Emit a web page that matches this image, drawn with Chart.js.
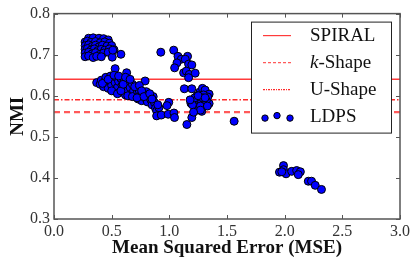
<!DOCTYPE html>
<html lang="en">
<head>
<meta charset="UTF-8">
<title>NMI vs MSE</title>
<style>
    html, body { margin: 0; padding: 0; background: #fff; }
    #wrap { width: 413px; height: 262px; }
</style>
</head>
<body>
<div id="wrap">
    <canvas id="grafico" width="413" height="262"></canvas>
</div>
<script src="https://cdn.jsdelivr.net/npm/chart.js"></script>
<script>
    // tick values
    var xTicks = [0.0, 0.5, 1.0, 1.5, 2.0, 2.5, 3.0];
    var yTicks = [0.3, 0.4, 0.5, 0.6, 0.7, 0.8];

    // baselines (NMI)
    var spiralNmi = 0.64;
    var uShapeNmi = 0.59;
    var kShapeNmi = 0.56;

    // LDPS runs: MSE and NMI
    var ldpsMse = [
        // cluster near 0.3-0.5
        0.30, 0.34, 0.39, 0.43, 0.47,
        0.27, 0.29, 0.32, 0.36, 0.40, 0.44, 0.48,
        0.27, 0.30, 0.33, 0.36, 0.39, 0.42, 0.46, 0.50,
        0.27, 0.29, 0.32, 0.35, 0.38, 0.41, 0.44, 0.48, 0.52,
        0.27, 0.30, 0.33, 0.36, 0.40, 0.43, 0.47,
        0.27, 0.30, 0.34, 0.37, 0.41, 0.505, 0.51, 0.58,
        // band 0.37-1.05
        0.37, 0.40, 0.41, 0.43, 0.44, 0.45, 0.46, 0.47, 0.48, 0.49, 0.50, 0.51, 0.52, 0.53, 0.53,
        0.54, 0.55, 0.56, 0.57, 0.58, 0.59, 0.60, 0.61, 0.62, 0.63, 0.63, 0.64, 0.65, 0.66, 0.67,
        0.68, 0.69, 0.70, 0.71, 0.72, 0.73, 0.74, 0.75, 0.76, 0.77, 0.79, 0.79, 0.80, 0.81, 0.82,
        0.84, 0.85, 0.86, 0.87, 0.88, 0.89, 0.91, 0.89, 0.93, 0.99, 1.04, 1.045, 0.995, 0.98,
        0.42, 0.47, 0.50, 0.52, 0.55, 0.56, 0.58, 0.60, 0.62, 0.64, 0.66, 0.68, 0.70, 0.72, 0.74,
        0.76, 0.78, 0.83, 0.85, 0.90,
        // cluster near 1.0-1.35
        0.926, 1.038, 1.075, 1.104, 1.158, 1.138, 1.066, 1.046, 1.167, 1.195, 1.124, 1.147, 1.173, 1.224, 1.167,
        1.13, 1.195, 1.265, 1.287, 1.31, 1.345, 1.333, 1.296, 1.345, 1.187, 1.21, 1.253, 1.224, 1.281, 1.238,
        1.195, 1.152, 1.562, 1.23, 1.26, 1.28, 1.30, 1.24, 1.27, 1.20, 1.32, 1.29, 1.22,
        1.25, 1.31, 1.18, 1.27, 1.33, 1.21,
        // cluster near 2.0-2.3
        1.955, 1.99, 1.99, 2.012, 2.061, 2.104, 2.136, 2.118, 2.205, 2.233, 2.265, 2.319, 1.975
    ];
    var ldpsNmi = [
        0.740, 0.741, 0.740, 0.739, 0.736,
        0.731, 0.733, 0.730, 0.732, 0.729, 0.731, 0.728,
        0.722, 0.724, 0.720, 0.723, 0.719, 0.723, 0.721, 0.722,
        0.713, 0.715, 0.711, 0.714, 0.710, 0.713, 0.711, 0.714, 0.712,
        0.704, 0.706, 0.702, 0.705, 0.701, 0.704, 0.706,
        0.695, 0.697, 0.693, 0.696, 0.695, 0.694, 0.711, 0.701,
        0.632, 0.628, 0.638, 0.622, 0.635, 0.645, 0.628, 0.618, 0.638, 0.648, 0.625, 0.640, 0.612, 0.666, 0.632,
        0.645, 0.620, 0.635, 0.608, 0.642, 0.625, 0.615, 0.638, 0.602, 0.656, 0.628, 0.612, 0.635, 0.620, 0.604,
        0.628, 0.612, 0.598, 0.620, 0.606, 0.592, 0.612, 0.600, 0.588, 0.605, 0.636, 0.595, 0.610, 0.585, 0.598,
        0.590, 0.578, 0.598, 0.584, 0.570, 0.563, 0.571, 0.551, 0.553, 0.555, 0.558, 0.547, 0.584, 0.576,
        0.630, 0.640, 0.612, 0.650, 0.605, 0.648, 0.612, 0.628, 0.645, 0.600, 0.640, 0.598, 0.622, 0.595, 0.625,
        0.612, 0.598, 0.605, 0.592, 0.578,
        0.706, 0.711, 0.696, 0.689, 0.696, 0.689, 0.680, 0.668, 0.677, 0.675, 0.656, 0.660, 0.652, 0.655, 0.644,
        0.617, 0.617, 0.609, 0.618, 0.614, 0.604, 0.597, 0.602, 0.581, 0.582, 0.586, 0.578, 0.571, 0.562, 0.565,
        0.547, 0.530, 0.538, 0.590, 0.592, 0.585, 0.580, 0.600, 0.575, 0.578, 0.588, 0.595, 0.595,
        0.600, 0.595, 0.590, 0.565, 0.575, 0.560,
        0.414, 0.430, 0.420, 0.410, 0.416, 0.418, 0.415, 0.408, 0.392, 0.392, 0.382, 0.372, 0.415
    ];

    var fonteSerif = "'Liberation Serif', 'DejaVu Serif', serif";
    var corEixo = '#555';

    var pontosLdps = ldpsMse.map(function (x, i) { return { x: x, y: ldpsNmi[i] }; });
    var xRange = [xTicks[0], xTicks[xTicks.length - 1]];
    function linhaHorizontal(valor) {
        return xRange.map(function (x) { return { x: x, y: valor }; });
    }

    // frame + inward ticks on all four sides
    var molduraPlugin = {
        id: 'moldura',
        afterDatasetsDraw: function (chart) {
            var ctx = chart.ctx, a = chart.chartArea;
            var sx = chart.scales.x, sy = chart.scales.y;
            ctx.save();
            ctx.strokeStyle = corEixo;
            ctx.lineWidth = 1.5;
            ctx.strokeRect(a.left, a.top, a.right - a.left, a.bottom - a.top);
            ctx.lineWidth = 1;
            ctx.beginPath();
            xTicks.forEach(function (v) {
                var px = Math.round(sx.getPixelForValue(v)) + 0.5;
                ctx.moveTo(px, a.bottom); ctx.lineTo(px, a.bottom - 4);
                ctx.moveTo(px, a.top); ctx.lineTo(px, a.top + 4);
            });
            yTicks.forEach(function (v) {
                var py = Math.round(sy.getPixelForValue(v)) + 0.5;
                ctx.moveTo(a.left, py); ctx.lineTo(a.left + 4, py);
                ctx.moveTo(a.right, py); ctx.lineTo(a.right - 4, py);
            });
            ctx.stroke();
            ctx.restore();
        }
    };

    // legend box in the upper right corner, like the matplotlib one
    var legendaPlugin = {
        id: 'legendaInterna',
        afterDraw: function (chart) {
            var ctx = chart.ctx, a = chart.chartArea;
            var ds = chart.data.datasets;
            var larg = 140, alt = 111;
            var bx = a.right - 9 - larg, by = a.top + 8;
            ctx.save();
            ctx.fillStyle = '#fff';
            ctx.fillRect(bx, by, larg, alt);
            ctx.strokeStyle = '#222';
            ctx.lineWidth = 1;
            ctx.strokeRect(bx + 0.5, by + 0.5, larg, alt);

            var x0 = bx + 12, x1 = bx + 40, xt = bx + 59;
            ctx.textBaseline = 'middle';
            ds.forEach(function (d, i) {
                var yy = by + 14 + i * 27;
                if (d.type === 'line') {
                    ctx.strokeStyle = d.borderColor;
                    ctx.lineWidth = 1.2;
                    ctx.setLineDash(d.legendDash);
                    ctx.beginPath();
                    ctx.moveTo(x0, yy); ctx.lineTo(x1, yy);
                    ctx.stroke();
                    ctx.setLineDash([]);
                } else {
                    [[2, 1.5], [14, -1], [27, 1.5]].forEach(function (o) {
                        ctx.beginPath();
                        ctx.arc(x0 + o[0], yy + o[1], 3.2, 0, Math.PI * 2);
                        ctx.fillStyle = d.backgroundColor;
                        ctx.fill();
                        ctx.strokeStyle = d.borderColor;
                        ctx.lineWidth = 1;
                        ctx.stroke();
                    });
                }
                ctx.fillStyle = '#111';
                if (d.label === 'k-Shape') {
                    ctx.font = "italic 19px " + fonteSerif;
                    ctx.fillText('k', xt, yy);
                    var w = ctx.measureText('k').width;
                    ctx.font = "19px " + fonteSerif;
                    ctx.fillText('-Shape', xt + w, yy);
                } else {
                    ctx.font = "19px " + fonteSerif;
                    ctx.fillText(d.label, xt, yy);
                }
            });
            ctx.restore();
        }
    };

    new Chart(document.getElementById('grafico'), {
        type: 'scatter',
        data: {
            datasets: [{
                type: 'line',
                label: 'SPIRAL',
                data: linhaHorizontal(spiralNmi),
                borderColor: '#ff3b3b',
                borderWidth: 1.5,
                pointRadius: 0,
                legendDash: [],
                order: 2
            }, {
                type: 'line',
                label: 'k-Shape',
                data: linhaHorizontal(kShapeNmi),
                borderColor: '#ff5a5a',
                borderWidth: 2.2,
                borderDash: [6, 4],
                pointRadius: 0,
                legendDash: [3, 2],
                order: 2
            }, {
                type: 'line',
                label: 'U-Shape',
                data: linhaHorizontal(uShapeNmi),
                borderColor: '#ff2a2a',
                borderWidth: 1.5,
                borderDash: [5, 2, 1.5, 2],
                pointRadius: 0,
                legendDash: [2, 1, 1, 1],
                order: 2
            }, {
                type: 'scatter',
                label: 'LDPS',
                data: pontosLdps,
                backgroundColor: '#0000ff',
                borderColor: '#000',
                borderWidth: 1,
                pointRadius: 4,
                order: 1
            }]
        },
        options: {
            responsive: false,
            animation: false,
            layout: { padding: { top: 12, right: 10, left: 0, bottom: 0 } },
            plugins: {
                legend: { display: false },
                tooltip: { enabled: false }
            },
            scales: {
                x: {
                    type: 'linear',
                    min: xRange[0],
                    max: xRange[1],
                    afterFit: function (s) { s.height = 43; },
                    afterBuildTicks: function (s) { s.ticks = xTicks.map(function (v) { return { value: v }; }); },
                    grid: { display: false, drawTicks: false },
                    border: { display: false },
                    ticks: {
                        padding: 3,
                        color: '#333',
                        font: { family: fonteSerif, size: 16 },
                        callback: function (v) { return Number(v).toFixed(1); }
                    },
                    title: {
                        display: true,
                        text: 'Mean Squared Error (MSE)',
                        color: '#111',
                        font: { family: fonteSerif, size: 19, weight: 'bold' },
                        padding: { top: 0, bottom: 3 }
                    }
                },
                y: {
                    type: 'linear',
                    min: yTicks[0],
                    max: yTicks[yTicks.length - 1],
                    afterFit: function (s) { s.width = 54; },
                    afterBuildTicks: function (s) { s.ticks = yTicks.map(function (v) { return { value: v }; }); },
                    grid: { display: false, drawTicks: false },
                    border: { display: false },
                    ticks: {
                        padding: 4,
                        color: '#333',
                        font: { family: fonteSerif, size: 16 },
                        callback: function (v) { return Number(v).toFixed(1); }
                    },
                    title: {
                        display: true,
                        text: 'NMI',
                        color: '#111',
                        font: { family: fonteSerif, size: 19, weight: 'bold' },
                        padding: { top: 7, bottom: 0 }
                    }
                }
            }
        },
        plugins: [molduraPlugin, legendaPlugin]
    });
</script>
</body>
</html>
